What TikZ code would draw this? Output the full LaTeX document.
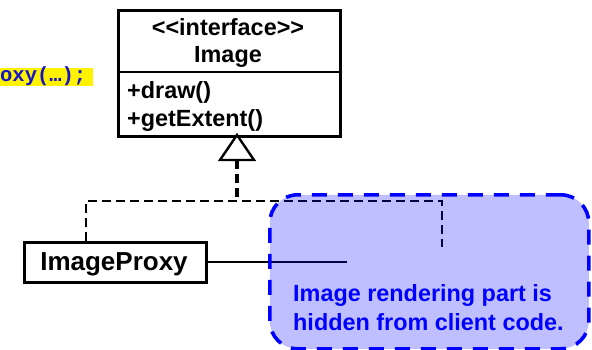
\documentclass[tikz,border=0pt]{standalone}
\usepackage{fontspec}
\setmainfont{Liberation Sans}
\newfontfamily\umlfont{Liberation Sans}
\newfontfamily\codefont{Liberation Mono}
\definecolor{codeblue}{RGB}{20,20,200}
\tikzset{
  umltext/.style={font=\umlfont\bfseries\fontsize{23.4}{28}\selectfont, inner sep=0},
  classbox/.style={draw, line width=2.5, inner sep=0, anchor=north west},
  realize/.style={line width=2, dash pattern=on 9 off 5},
  realizethick/.style={line width=3.4, dash pattern=on 9 off 5},
  hiddennote/.style={draw=blue, fill=blue, fill opacity=0.25, line width=3.6,
    dash pattern=on 15 off 11, rounded corners=28, inner sep=0, anchor=north west},
  notetext/.style={umltext, text=blue, anchor=base west}
}
\begin{document}
\begin{tikzpicture}[x=1pt, y=-1pt]
\useasboundingbox (0,0) rectangle (592,349);

% client code fragment
\node[fill=yellow, inner sep=0, anchor=north west, text width=93, align=left,
      text height=13.7, text depth=4.3, text=codeblue,
      font=\codefont\bfseries\fontsize{20.5}{22}\selectfont] (code) at (0,68) {oxy(…);};

% interface Image
\node[classbox, minimum width=222, minimum height=126] (img) at (117,9) {};
\draw[line width=2.5] (img.west |- 0,72) -- (img.east |- 0,72);
\node[umltext, anchor=base] (stereo) at (228,35) {<\kern0pt<interface>\kern0pt>};
\node[umltext, anchor=base] (imgname) at (228,62) {Image};
\node[umltext, anchor=base west] (op1) at (127,98) {+draw()};
\node[umltext, anchor=base west] (op2) at (127,126) {+getExtent()};

% ImageProxy
\node[classbox, minimum width=182, minimum height=40] (proxy) at (23,241) {};
\node[umltext, anchor=base, font=\umlfont\bfseries\fontsize{26}{30}\selectfont] (proxyname) at (114,270) {ImageProxy};

% realization arrow
\coordinate (apex) at (237,135);
\coordinate (tribase) at (237,160);
\coordinate (junc) at (237,201);
\coordinate (lcorner) at (86,201);
\coordinate (rcorner) at (442,201);
\coordinate (rend) at (442,247);
\coordinate (hidden) at (347,259);
\draw[realizethick] (tribase) -- (junc);
\draw[realize] (lcorner |- proxy.north) -- (lcorner) -- (rcorner) -- (rend);
\draw[line width=2.4, fill=white, line join=miter] (apex) -- ++(-17,25) -- ++(34,0) -- cycle;
\draw[line width=2] (proxy.east) -- (proxy.east -| hidden);

% hidden part
\node[hiddennote, minimum width=319, minimum height=154] (note) at (268,193) {};
\node[notetext] (note1) at (293,301.5) {Image rendering part is};
\node[notetext] (note2) at (293,330) {hidden from client code.};
\end{tikzpicture}
\end{document}
